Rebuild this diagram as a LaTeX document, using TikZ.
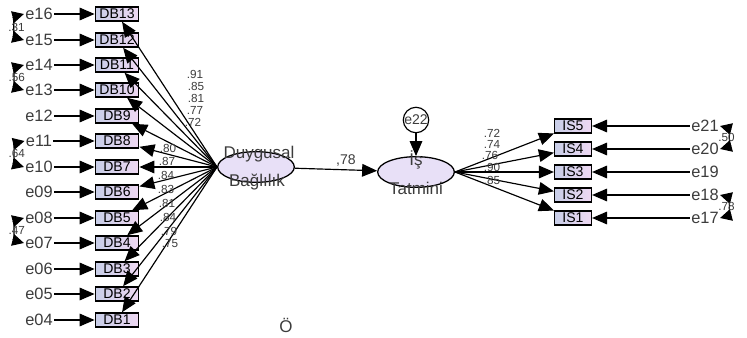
\documentclass[tikz,border=0pt]{standalone}
\usepackage{fontspec}
\setmainfont{Liberation Sans}
\newfontfamily\amosfont{Liberation Sans}
\usetikzlibrary{arrows.meta,shapes.geometric}
\definecolor{boxleft}{RGB}{200,206,232}
\definecolor{boxright}{RGB}{238,216,242}
\definecolor{ellfill}{RGB}{232,224,247}
\definecolor{labgray}{RGB}{60,60,60}

\begin{document}
\begin{tikzpicture}[x=0.03cm,y=-0.03cm,
    obs/.style={
        draw,
        line width=1.3pt,
        left color=boxleft,
        right color=boxright,
        minimum width=1.3cm,
        minimum height=0.42cm,
        inner sep=0pt,
        font=\amosfont\fontsize{12}{12}\selectfont
    },
    obsr/.style={
        obs,
        minimum width=1.1cm
    },
    lat/.style={
        ellipse,
        draw,
        line width=1.1pt,
        fill=ellfill,
        minimum width=2.3cm,
        minimum height=0.92cm,
        inner sep=0pt
    },
    lattext/.style={
        font=\amosfont\fontsize{14.5}{14.5}\selectfont,
        text=labgray,
        inner sep=0pt
    },
    err/.style={
        inner sep=1pt,
        font=\amosfont\fontsize{14}{14}\selectfont,
        text=labgray
    },
    lab/.style={
        inner sep=0.5pt,
        font=\amosfont\fontsize{10}{10}\selectfont,
        text=labgray
    },
    arr/.style={
        -{Triangle[length=4.5mm,width=3.8mm]},
        line width=1pt
    },
    cor/.style={
        {Triangle[length=3.5mm,width=3.5mm]}-{Triangle[length=3.5mm,width=3.5mm]},
        line width=1pt
    }
]
\useasboundingbox (0,0) rectangle (747,338);

% left indicators
\node[obs] (db13) at (117,14) {DB13};
\node[obs] (db12) at (117,40) {DB12};
\node[obs] (db11) at (117,65) {DB11};
\node[obs] (db10) at (117,90) {DB10};
\node[obs] (db9) at (117,116) {DB9};
\node[obs] (db8) at (117,141) {DB8};
\node[obs] (db7) at (117,167) {DB7};
\node[obs] (db6) at (117,192) {DB6};
\node[obs] (db5) at (117,218) {DB5};
\node[obs] (db4) at (117,243) {DB4};
\node[obs] (db3) at (117,269) {DB3};
\node[obs] (db2) at (117,294) {DB2};
\node[obs] (db1) at (117,320) {DB1};

\node[err] (e16) at (39,14) {e16};
\node[err] (e15) at (39,40) {e15};
\node[err] (e14) at (39,65) {e14};
\node[err] (e13) at (39,90) {e13};
\node[err] (e12) at (39,116) {e12};
\node[err] (e11) at (39,141) {e11};
\node[err] (e10) at (39,167) {e10};
\node[err] (e09) at (39,192) {e09};
\node[err] (e08) at (39,218) {e08};
\node[err] (e07) at (39,243) {e07};
\node[err] (e06) at (39,269) {e06};
\node[err] (e05) at (39,294) {e05};
\node[err] (e04) at (39,320) {e04};

\draw[arr] (e16) -- (db13);
\draw[arr] (e15) -- (db12);
\draw[arr] (e14) -- (db11);
\draw[arr] (e13) -- (db10);
\draw[arr] (e12) -- (db9);
\draw[arr] (e11) -- (db8);
\draw[arr] (e10) -- (db7);
\draw[arr] (e09) -- (db6);
\draw[arr] (e08) -- (db5);
\draw[arr] (e07) -- (db4);
\draw[arr] (e06) -- (db3);
\draw[arr] (e05) -- (db2);
\draw[arr] (e04) -- (db1);

% error covariances, left
\draw[cor] (e16.west) to[bend right=75] node[lab,pos=0.5] {.31} (e15.west);
\draw[cor] (e14.west) to[bend right=75] node[lab,pos=0.5] {.56} (e13.west);
\draw[cor] (e11.west) to[bend right=75] node[lab,pos=0.5] {.64} (e10.west);
\draw[cor] (e08.west) to[bend right=75] node[lab,pos=0.5] {.47} (e07.west);

% latent variables
\node[lat] (dug) at (256,167) {};
\node[lattext] (dugtop) at (259,154) {Duygusal};
\node[lattext] (dugbot) at (257,182) {Bağlılık};

\node[lat] (ist) at (416,172) {};
\node[lattext] (isttop) at (416,160) {İş};
\node[lattext] (istbot) at (416,188) {Tatmini};

\node[circle, draw, line width=1pt, minimum size=0.5cm, inner sep=0pt,
      font=\amosfont\fontsize{12}{12}\selectfont, text=labgray] (e22) at (416,120) {e22};
\draw[arr] (e22) -- (ist);

\draw[arr] (dug) -- node[lab,above=2pt,font=\amosfont\fontsize{12}{12}\selectfont,pos=0.62] {,78} (ist);

% loadings, left
\draw[arr] (dug.west) -- (db13);
\draw[arr] (dug.west) -- (db12);
\draw[arr] (dug.west) -- (db11);
\draw[arr] (dug.west) -- (db10);
\draw[arr] (dug.west) -- (db9);
\draw[arr] (dug.west) -- (db8);
\draw[arr] (dug.west) -- (db7);
\draw[arr] (dug.west) -- (db6);
\draw[arr] (dug.west) -- (db5);
\draw[arr] (dug.west) -- (db4);
\draw[arr] (dug.west) -- (db3);
\draw[arr] (dug.west) -- (db2);
\draw[arr] (dug.west) -- (db1);

\node[lab] (l13) at (195,74) {.91};
\node[lab] (l12) at (196,86) {.85};
\node[lab] (l11) at (196,98) {.81};
\node[lab] (l10) at (195,110) {.77};
\node[lab] (l9) at (193,122) {.72};
\node[lab] (l8) at (168,148) {.80};
\node[lab] (l7) at (167,161) {.87};
\node[lab] (l6) at (166,175) {.84};
\node[lab] (l5) at (166,189) {.83};
\node[lab] (l4) at (167,203) {.81};
\node[lab] (l3) at (168,217) {.84};
\node[lab] (l2) at (169,231) {.79};
\node[lab] (l1) at (170,244) {.75};

% right indicators
\node[obsr] (is5) at (573,126) {IS5};
\node[obsr] (is4) at (573,149) {IS4};
\node[obsr] (is3) at (573,172) {IS3};
\node[obsr] (is2) at (573,195) {IS2};
\node[obsr] (is1) at (573,218) {IS1};

\node[err] (e21) at (705,126) {e21};
\node[err] (e20) at (705,149) {e20};
\node[err] (e19) at (705,172) {e19};
\node[err] (e18) at (705,195) {e18};
\node[err] (e17) at (705,218) {e17};

\draw[arr] (e21) -- (is5);
\draw[arr] (e20) -- (is4);
\draw[arr] (e19) -- (is3);
\draw[arr] (e18) -- (is2);
\draw[arr] (e17) -- (is1);

% error covariances, right
\draw[cor] (e21.east) to[bend left=75] node[lab,pos=0.5] {.50} (e20.east);
\draw[cor] (e18.east) to[bend left=75] node[lab,pos=0.5] {.78} (e17.east);

% loadings, right
\draw[arr] (ist.east) -- (is5);
\draw[arr] (ist.east) -- (is4);
\draw[arr] (ist.east) -- (is3);
\draw[arr] (ist.east) -- (is2);
\draw[arr] (ist.east) -- (is1);

\node[lab] (r5) at (492,133) {.72};
\node[lab] (r4) at (492,144) {.74};
\node[lab] (r3) at (490,155) {.76};
\node[lab] (r2) at (492,167) {.90};
\node[lab] (r1) at (492,180) {.85};

\node[lattext] (stray) at (286,325) {Ö};

\end{tikzpicture}
\end{document}
